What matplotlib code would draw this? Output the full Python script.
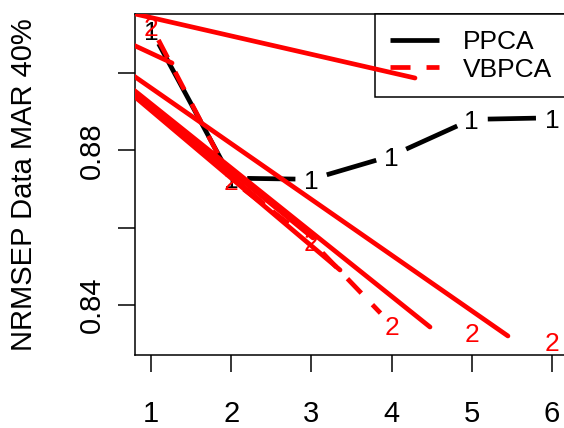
import matplotlib
matplotlib.use("Agg")
import matplotlib.pyplot as plt
import numpy as np
from matplotlib.lines import Line2D

# ---------------- data ----------------
components = [1, 2, 3, 4, 5, 6]
ppca = [0.9112, 0.8728, 0.8725, 0.8786, 0.8880, 0.8884]
vbpca = [0.9122, 0.8724, 0.8565, 0.8349, 0.8330, 0.8307]
series_labels = ["PPCA", "VBPCA"]
series_chars = ["1", "2"]
x_ticks = [1, 2, 3, 4, 5, 6]
y_ticks = [0.84, 0.86, 0.88, 0.90]
y_ticklabels = ["0.84", "", "0.88", ""]
y_label = "NRMSEP Data MAR 40%"

# VBPCA segments whose dashes are rendered normally in the reference
vbpca_dashed_segments = [0, 1, 2]

# stray red strokes visible in the reference rendering (common origin -> end points)
stray_origin_x = -0.883
stray_origin_y = 0.92327
stray_end_x = [4.292, 1.262, 1.935, 2.397, 3.020, 3.357, 4.479, 5.451]
stray_end_y = [0.89870, 0.90258, 0.87439, 0.86638, 0.85733, 0.84904, 0.83429, 0.83197]

# ---------------- style ----------------
plt.rcParams['font.family'] = ['Liberation Sans', 'DejaVu Sans']
W, H = 564, 428
fig = plt.figure(figsize=(W / 100, H / 100), dpi=100)
left, right, top, bottom = 135, 568, 14, 355
ax = fig.add_axes([left / W, 1 - bottom / H, (right - left) / W, (bottom - top) / H])
ax.set_xlim(0.8, 6.2)
ax.set_ylim(0.82705, 0.91526)

LW = 3.4
DASH = (0, (4.24, 3.39))
GAP_PX = 16

for s in ax.spines.values():
    s.set_linewidth(1.1)
ax.set_xticks(x_ticks)
ax.set_xticklabels([str(v) for v in x_ticks])
ax.set_yticks(y_ticks)
ax.set_yticklabels(y_ticklabels, rotation=90, va='center')
ax.tick_params(axis='both', direction='out', length=12.2, width=1.1, labelsize=21)
ax.tick_params(axis='x', pad=20.5)
ax.tick_params(axis='y', pad=9)
ax.set_ylabel(y_label, fontsize=21)
ax.yaxis.label.set_va('center')
ax.yaxis.set_label_coords((24 - left) / (right - left), 0.5)


def draw_type_b(xs, ys, color, ls, z, segments=None):
    """R-style type='b': segments between points, with gaps around points."""
    trans = ax.transData
    inv = trans.inverted()
    pts = trans.transform(np.column_stack([xs, ys]))
    for i, (p0, p1) in enumerate(zip(pts[:-1], pts[1:])):
        if segments is not None and i not in segments:
            continue
        d = p1 - p0
        L = np.hypot(*d)
        if L <= 2 * GAP_PX:
            continue
        u = d / L
        a = inv.transform(p0 + u * GAP_PX)
        b = inv.transform(p1 - u * GAP_PX)
        ax.plot([a[0], b[0]], [a[1], b[1]], color=color, lw=LW, ls=ls,
                solid_capstyle='butt', dash_capstyle='butt', zorder=z)


def draw_chars(xs, ys, ch, color, z):
    for xv, yv in zip(xs, ys):
        ax.annotate(ch, (xv, yv), xytext=(0, -2.2), textcoords='offset points',
                    ha='center', va='center', fontsize=19, color=color, zorder=z)


draw_type_b(components, ppca, 'black', '-', 2)
draw_chars(components, ppca, series_chars[0], 'black', 3)
draw_type_b(components, vbpca, 'red', DASH, 3.5, vbpca_dashed_segments)
draw_chars(components, vbpca, series_chars[1], 'red', 4)

for ex, ey in zip(stray_end_x, stray_end_y):
    ax.plot([stray_origin_x, ex], [stray_origin_y, ey], color='red', lw=LW,
            solid_capstyle='round', zorder=6)

handles = [Line2D([], [], color='black', lw=LW, ls='-', solid_capstyle='butt'),
           Line2D([], [], color='red', lw=LW, ls=DASH, dash_capstyle='butt')]
leg = ax.legend(handles, series_labels, loc='upper right', bbox_to_anchor=(1, 1),
                borderaxespad=0, frameon=True, fancybox=False, edgecolor='black',
                framealpha=1, fontsize=19, handlelength=1.85, handletextpad=0.9,
                borderpad=0.6, labelspacing=0.14)
leg.get_frame().set_linewidth(1.1)
leg.set_zorder(5)

fig.savefig("out.png", dpi=100)
